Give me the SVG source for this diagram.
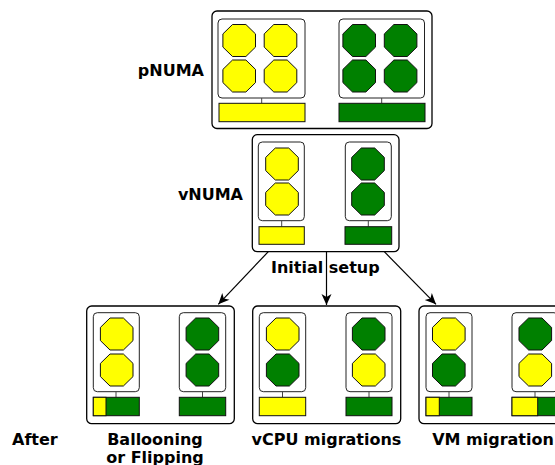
<svg xmlns="http://www.w3.org/2000/svg" xmlns:xlink="http://www.w3.org/1999/xlink" width="555" height="465" viewBox="0 0 555 465">
<style>
.outer{fill:#fff;stroke:#000;stroke-width:1.3}
.inner{fill:#fff;stroke:#222;stroke-width:1}
.y{fill:#ffff00;stroke:#111;stroke-width:1}
.g{fill:#008000;stroke:#111;stroke-width:1}
.tie{stroke:#444;stroke-width:1}
.lbl{font-family:"DejaVu Sans",sans-serif;font-weight:bold;font-size:16px;fill:#000}
.arrow{stroke:#000;stroke-width:1.2;fill:none;marker-end:url(#ah)}
</style>
<defs>
<polygon id="oct" points="-6.7,-16 6.7,-16 16.3,-6.6 16.3,6.6 6.7,16 -6.7,16 -16.3,6.6 -16.3,-6.6"/>
<marker id="ah" markerUnits="userSpaceOnUse" markerWidth="14" markerHeight="12" viewBox="-12 -6 14 12" refX="0" refY="0" orient="auto">
<path d="M0,0 L-11,-5 L-8,0 L-11,5 Z" fill="#000"/>
</marker>
</defs>

<g id="pnuma">
<rect class="outer" x="212" y="11" width="220" height="117.5" rx="5"/>
<rect class="inner" x="218" y="19" width="87" height="79" rx="4"/>
<rect class="inner" x="339" y="19" width="85.5" height="79" rx="4"/>
<use href="#oct" class="y" x="239.2" y="40.5"/>
<use href="#oct" class="y" x="280.5" y="40.5"/>
<use href="#oct" class="y" x="239.2" y="76"/>
<use href="#oct" class="y" x="280.5" y="76"/>
<use href="#oct" class="g" x="359.2" y="40.5"/>
<use href="#oct" class="g" x="400.6" y="40.5"/>
<use href="#oct" class="g" x="359.2" y="76"/>
<use href="#oct" class="g" x="400.6" y="76"/>
<line class="tie" x1="261.7" y1="98" x2="261.7" y2="103.3"/>
<line class="tie" x1="381.7" y1="98" x2="381.7" y2="103.3"/>
<rect class="y" x="219" y="103.3" width="86" height="18.4"/>
<rect class="g" x="339" y="103.3" width="86" height="18.4"/>
</g>
<text class="lbl" x="204" y="76" text-anchor="end">pNUMA</text>

<g id="vnuma">
<rect class="outer" x="252.3" y="134.7" width="146.7" height="117" rx="5"/>
<rect class="inner" x="258.3" y="142" width="46" height="78.7" rx="4"/>
<rect class="inner" x="345.3" y="142" width="46" height="78.7" rx="4"/>
<use href="#oct" class="y" x="282" y="164"/>
<use href="#oct" class="y" x="282" y="199"/>
<use href="#oct" class="g" x="368" y="164"/>
<use href="#oct" class="g" x="368" y="199"/>
<line class="tie" x1="281.7" y1="220.7" x2="281.7" y2="226.7"/>
<line class="tie" x1="368.3" y1="220.7" x2="368.3" y2="226.7"/>
<rect class="y" x="259" y="226.7" width="45.3" height="17.6"/>
<rect class="g" x="345" y="226.7" width="46.7" height="17.6"/>
</g>
<text class="lbl" x="243" y="200" text-anchor="end">vNUMA</text>

<g id="connectors">
<line class="arrow" x1="268.3" y1="251.7" x2="218.3" y2="304.3"/>
<line class="arrow" x1="326.5" y1="251.7" x2="326.5" y2="305"/>
<line class="arrow" x1="384.3" y1="251.7" x2="436" y2="304.3"/>
</g>
<text class="lbl" x="325.3" y="273" text-anchor="middle">Initial setup</text>

<g id="ballooning">
<rect class="outer" x="86.7" y="306" width="147.6" height="117.7" rx="5"/>
<rect class="inner" x="93.3" y="312.7" width="46" height="79" rx="4"/>
<rect class="inner" x="179.3" y="312.7" width="46.4" height="79" rx="4"/>
<use href="#oct" class="y" x="116.7" y="334"/>
<use href="#oct" class="y" x="116.7" y="370"/>
<use href="#oct" class="g" x="202.4" y="334"/>
<use href="#oct" class="g" x="202.4" y="370"/>
<line class="tie" x1="116" y1="391.7" x2="116" y2="397.3"/>
<line class="tie" x1="202.5" y1="391.7" x2="202.5" y2="397.3"/>
<rect class="g" x="93.3" y="397.3" width="46" height="18.4"/>
<rect class="y" x="93.3" y="397.3" width="12.7" height="18.4"/>
<rect class="g" x="179.3" y="397.3" width="46.4" height="18.4"/>
</g>

<g id="vcpu">
<rect class="outer" x="252.7" y="306" width="148" height="117.7" rx="5"/>
<rect class="inner" x="259.3" y="312.7" width="46.4" height="79" rx="4"/>
<rect class="inner" x="346" y="312.7" width="46" height="79" rx="4"/>
<use href="#oct" class="y" x="282.7" y="334"/>
<use href="#oct" class="g" x="282.7" y="370"/>
<use href="#oct" class="g" x="368.7" y="334"/>
<use href="#oct" class="y" x="368.7" y="370"/>
<line class="tie" x1="282.5" y1="391.7" x2="282.5" y2="397.3"/>
<line class="tie" x1="369" y1="391.7" x2="369" y2="397.3"/>
<rect class="y" x="259.3" y="397.3" width="46.4" height="18.4"/>
<rect class="g" x="346" y="397.3" width="46" height="18.4"/>
</g>

<g id="vm">
<rect class="outer" x="419" y="306" width="148" height="117.7" rx="5"/>
<rect class="inner" x="426" y="312.7" width="46" height="79" rx="4"/>
<rect class="inner" x="512" y="312.7" width="46" height="79" rx="4"/>
<use href="#oct" class="y" x="448.8" y="334"/>
<use href="#oct" class="g" x="448.8" y="370"/>
<use href="#oct" class="g" x="535.3" y="334"/>
<use href="#oct" class="y" x="535.3" y="370"/>
<line class="tie" x1="449" y1="391.7" x2="449" y2="397.3"/>
<line class="tie" x1="535" y1="391.7" x2="535" y2="397.3"/>
<rect class="g" x="426" y="397.3" width="46" height="18.4"/>
<rect class="y" x="426" y="397.3" width="13.3" height="18.4"/>
<rect class="g" x="512" y="397.3" width="46" height="18.4"/>
<rect class="y" x="512" y="397.3" width="25.7" height="18.4"/>
</g>

<text class="lbl" x="12" y="445">After</text>
<text class="lbl" x="155" y="445" text-anchor="middle">Ballooning</text>
<text class="lbl" x="155" y="462.5" text-anchor="middle">or Flipping</text>
<text class="lbl" x="326.5" y="445" text-anchor="middle">vCPU migrations</text>
<text class="lbl" x="493" y="445" text-anchor="middle">VM migration</text>
</svg>
